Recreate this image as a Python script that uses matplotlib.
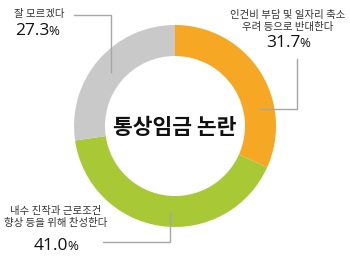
import matplotlib
matplotlib.use("Agg")
from matplotlib import pyplot as plt

labels = ["인건비 부담 및 일자리 축소\n우려 등으로 반대한다",
          "내수 진작과 근로조건\n향상 등을 위해 찬성한다",
          "잘 모르겠다"]
values = [31.7, 41.0, 27.3]
colors = ["#F6A824", "#A8C935", "#C9C9C9"]
title = "통상임금 논란"

kr = ["Noto Sans CJK KR", "DejaVu Sans"]
num = ["Open Sans", "DejaVu Sans"]

fig = plt.figure(figsize=(3.5, 2.56), dpi=100)
ax = fig.add_axes([0, 0, 1, 1])

# y axis is flipped, so start at -90 and go "counterclock" to draw clockwise from the top
ax.pie(values, colors=colors, startangle=-90, counterclock=True,
       center=(175, 126), radius=101, frame=True,
       wedgeprops=dict(width=31, linewidth=0))
ax.set_xlim(0, 350)
ax.set_ylim(256, 0)
ax.set_aspect("equal")
ax.axis("off")

ax.text(175, 127, title, ha="center", va="center", fontsize=15.5,
        fontweight="bold", family=kr, color="#111111")

# leader lines
lc = "#A6A6A6"
ax.plot([297, 297, 260], [59, 109, 109], color=lc, lw=1)
ax.plot([103, 170, 170], [242, 242, 212], color=lc, lw=1)
ax.plot([74, 111, 111], [15, 15, 72], color=lc, lw=1)

gap = -1.0


def pct(x, y, v, ha):
    t = ax.text(0, y, f"{v:.1f}", ha="left", va="baseline", fontsize=12.5,
                family=num, color="#111111")
    p = ax.text(0, y, "%", ha="left", va="baseline", fontsize=9.5,
                family=num, color="#111111")
    fig.canvas.draw()
    inv = ax.transData.inverted()
    b1 = t.get_window_extent()
    b2 = p.get_window_extent()
    w1 = inv.transform((b1.x1, 0))[0] - inv.transform((b1.x0, 0))[0]
    w2 = inv.transform((b2.x1, 0))[0] - inv.transform((b2.x0, 0))[0]
    x0 = x if ha == "left" else x - (w1 + w2 + gap) / 2
    t.set_x(x0)
    p.set_x(x0 + w1 + gap)


# orange label
ax.text(288, 21, labels[0], ha="center", va="center", fontsize=7.5,
        family=kr, color="#333333", linespacing=1.25)
pct(288, 47, values[0], "center")

# green label
ax.text(56, 217, labels[1], ha="center", va="center", fontsize=7.5,
        family=kr, color="#333333", linespacing=1.25)
pct(56, 250, values[1], "center")

# gray label
ax.text(14, 14, labels[2], ha="left", va="center", fontsize=7.5,
        family=kr, color="#333333")
pct(15, 35, values[2], "left")

fig.savefig("out.png", dpi=100)
